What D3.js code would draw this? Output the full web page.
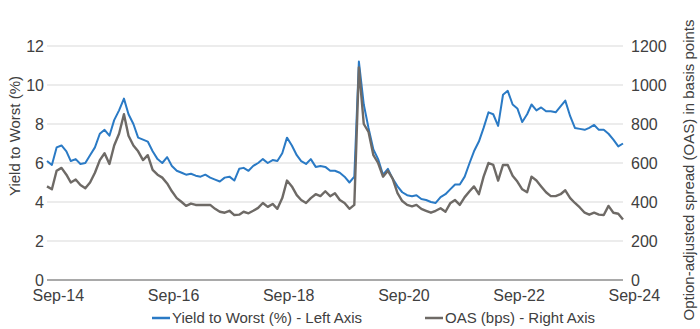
<!DOCTYPE html>
<html>
<head>
<meta charset="utf-8">
<script src="https://cdn.jsdelivr.net/npm/d3@7"></script>
<style>
  html, body { margin: 0; padding: 0; background: #ffffff; }
  svg { display: block; font-family: "Liberation Sans", Arial, sans-serif; }
</style>
</head>
<body>
<svg id="chart" width="700" height="329"></svg>
<script>
// ---- Data (monthly, Oct-2014 .. Oct-2024) ----
const startMonth = new Date(2014, 9, 1);
const endMonth = new Date(2024, 9, 1);
const months = d3.timeMonth.range(startMonth, d3.timeMonth.offset(endMonth, 1));

// Yield to Worst (%) - left axis
const ytw = [
  6.1, 5.9, 6.8, 6.9, 6.6, 6.1, 6.2, 5.95, 6.0, 6.4,
  6.8, 7.5, 7.7, 7.4, 8.2, 8.7, 9.3, 8.5, 8.0, 7.3,
  7.2, 7.1, 6.6, 6.2, 6.0, 6.3, 5.85, 5.6, 5.5, 5.4,
  5.45, 5.35, 5.3, 5.4, 5.25, 5.15, 5.05, 5.25, 5.3, 5.1,
  5.7, 5.75, 5.6, 5.85, 6.0, 6.2, 6.0, 6.15, 6.1, 6.5,
  7.3, 6.9, 6.4, 6.1, 5.95, 6.2, 5.8, 5.85, 5.8, 5.6,
  5.6, 5.5, 5.3, 5.0, 5.3, 11.2, 9.0, 7.8, 6.7, 6.2,
  5.4, 5.7, 5.2, 4.8, 4.5, 4.35, 4.3, 4.35, 4.15, 4.1,
  4.0, 3.95, 4.25, 4.4, 4.65, 4.9, 4.9, 5.3, 6.0, 6.6,
  7.1, 7.8, 8.6, 8.5, 7.9, 9.5, 9.7, 9.0, 8.8, 8.1,
  8.5, 9.0, 8.7, 8.85, 8.65, 8.65, 8.6, 8.9, 9.2, 8.4,
  7.8, 7.75, 7.7, 7.8, 7.95, 7.7, 7.7, 7.5, 7.2, 6.85,
  7.0
];

// OAS (bps) - right axis
const oas = [
  480, 465, 560, 575, 540, 500, 515, 487, 470, 500,
  550, 615, 650, 595, 690, 750, 850, 740, 690, 660,
  615, 640, 565, 540, 525, 495, 455, 420, 400, 380,
  392, 385, 385, 385, 385, 365, 350, 345, 355, 333,
  335, 350, 342, 355, 370, 395, 375, 390, 365, 420,
  510, 480, 435, 410, 395, 420, 440, 430, 455, 430,
  445, 410, 395, 365, 385, 1090, 800, 760, 640, 600,
  530, 560, 520, 445, 405, 385, 378, 385, 365, 355,
  345, 355, 368, 350, 393, 410, 385, 425, 455, 480,
  440, 530, 600, 590, 510, 590, 590, 535, 505, 465,
  450, 530, 510, 480, 450, 430, 430, 440, 460, 420,
  395, 372, 345, 335, 345, 335, 333, 380, 345, 340,
  310
];

// Axis ticks
const leftTicks = [0, 2, 4, 6, 8, 10, 12];
const rightTicks = [0, 200, 400, 600, 800, 1000, 1200];
const xTickYears = [2014, 2016, 2018, 2020, 2022, 2024];
const xTickLabels = ["Sep-14", "Sep-16", "Sep-18", "Sep-20", "Sep-22", "Sep-24"];

// ---- Drawing ----
const svg = d3.select("#chart");
const plotL = 47, plotR = 623, plotT = 46, plotB = 280;
const textColor = "#404040";
const blue = "#2a7ac5";
const grey = "#6e6a66";
const fontFam = '"Liberation Sans", Arial, sans-serif';

const x = d3.scaleTime().domain([startMonth, endMonth]).range([plotL, plotR]);
const yL = d3.scaleLinear().domain([0, 12]).range([plotB, plotT]);
const yR = d3.scaleLinear().domain([0, 1200]).range([plotB, plotT]);

// gridlines
svg.append("g").selectAll("line")
  .data(leftTicks.filter(d => d > 0))
  .join("line")
  .attr("x1", plotL).attr("x2", plotR)
  .attr("y1", d => yL(d)).attr("y2", d => yL(d))
  .attr("stroke", "#d9d9d9").attr("stroke-width", 1);

// left axis
const gL = svg.append("g").attr("transform", `translate(${plotL},0)`)
  .call(d3.axisLeft(yL).tickValues(leftTicks).tickSize(0).tickPadding(3)
    .tickFormat(d3.format("d")));
gL.select(".domain").remove();
gL.selectAll("text").attr("fill", textColor).attr("font-size", 16).attr("font-family", fontFam);

// right axis
const gR = svg.append("g").attr("transform", `translate(${plotR},0)`)
  .call(d3.axisRight(yR).tickValues(rightTicks).tickSize(0).tickPadding(8)
    .tickFormat(d3.format("d")));
gR.select(".domain").remove();
gR.selectAll("text").attr("fill", textColor).attr("font-size", 16).attr("font-family", fontFam);

// bottom axis
const tickDates = xTickYears.map(yr => new Date(yr, 8, 30));
const gB = svg.append("g").attr("transform", `translate(0,${plotB})`)
  .call(d3.axisBottom(x).tickValues(tickDates).tickSize(0).tickPadding(10)
    .tickFormat((d, i) => xTickLabels[i]));
gB.select(".domain").remove();
gB.selectAll("text").attr("fill", textColor).attr("font-size", 16)
  .attr("dx", 11).attr("font-family", fontFam);

// lines
const lineL = d3.line().x((d, i) => x(months[i])).y(d => yL(d));
const lineR = d3.line().x((d, i) => x(months[i])).y(d => yR(d));

svg.append("path").datum(ytw)
  .attr("d", lineL).attr("fill", "none")
  .attr("stroke", blue).attr("stroke-width", 2).attr("stroke-linejoin", "round");

svg.append("path").datum(oas)
  .attr("d", lineR).attr("fill", "none")
  .attr("stroke", grey).attr("stroke-width", 2.4).attr("stroke-linejoin", "round");

// zero axis line
svg.append("line")
  .attr("x1", plotL).attr("x2", plotR)
  .attr("y1", yL(0)).attr("y2", yL(0))
  .attr("stroke", "#8c8c8c").attr("stroke-width", 1.5);

// axis titles
svg.append("text")
  .attr("transform", "translate(20,136) rotate(-90)")
  .attr("text-anchor", "middle")
  .attr("fill", textColor).attr("font-size", 15)
  .text("Yield to Worst (%)");

svg.append("text")
  .attr("transform", "translate(694,170) rotate(-90)")
  .attr("text-anchor", "middle")
  .attr("fill", textColor).attr("font-size", 15)
  .text("Option-adjusted spread (OAS) in basis points");

// legend
const legendItems = [
  { label: "Yield to Worst (%) - Left Axis", color: blue, x: 152 },
  { label: "OAS (bps) - Right Axis", color: grey, x: 425 }
];
const lg = svg.append("g");
legendItems.forEach(it => {
  lg.append("line")
    .attr("x1", it.x).attr("x2", it.x + 18)
    .attr("y1", 318).attr("y2", 318)
    .attr("stroke", it.color).attr("stroke-width", 2.5);
  lg.append("text")
    .attr("x", it.x + 20).attr("y", 323)
    .attr("fill", textColor).attr("font-size", 15)
    .text(it.label);
});
</script>
</body>
</html>
